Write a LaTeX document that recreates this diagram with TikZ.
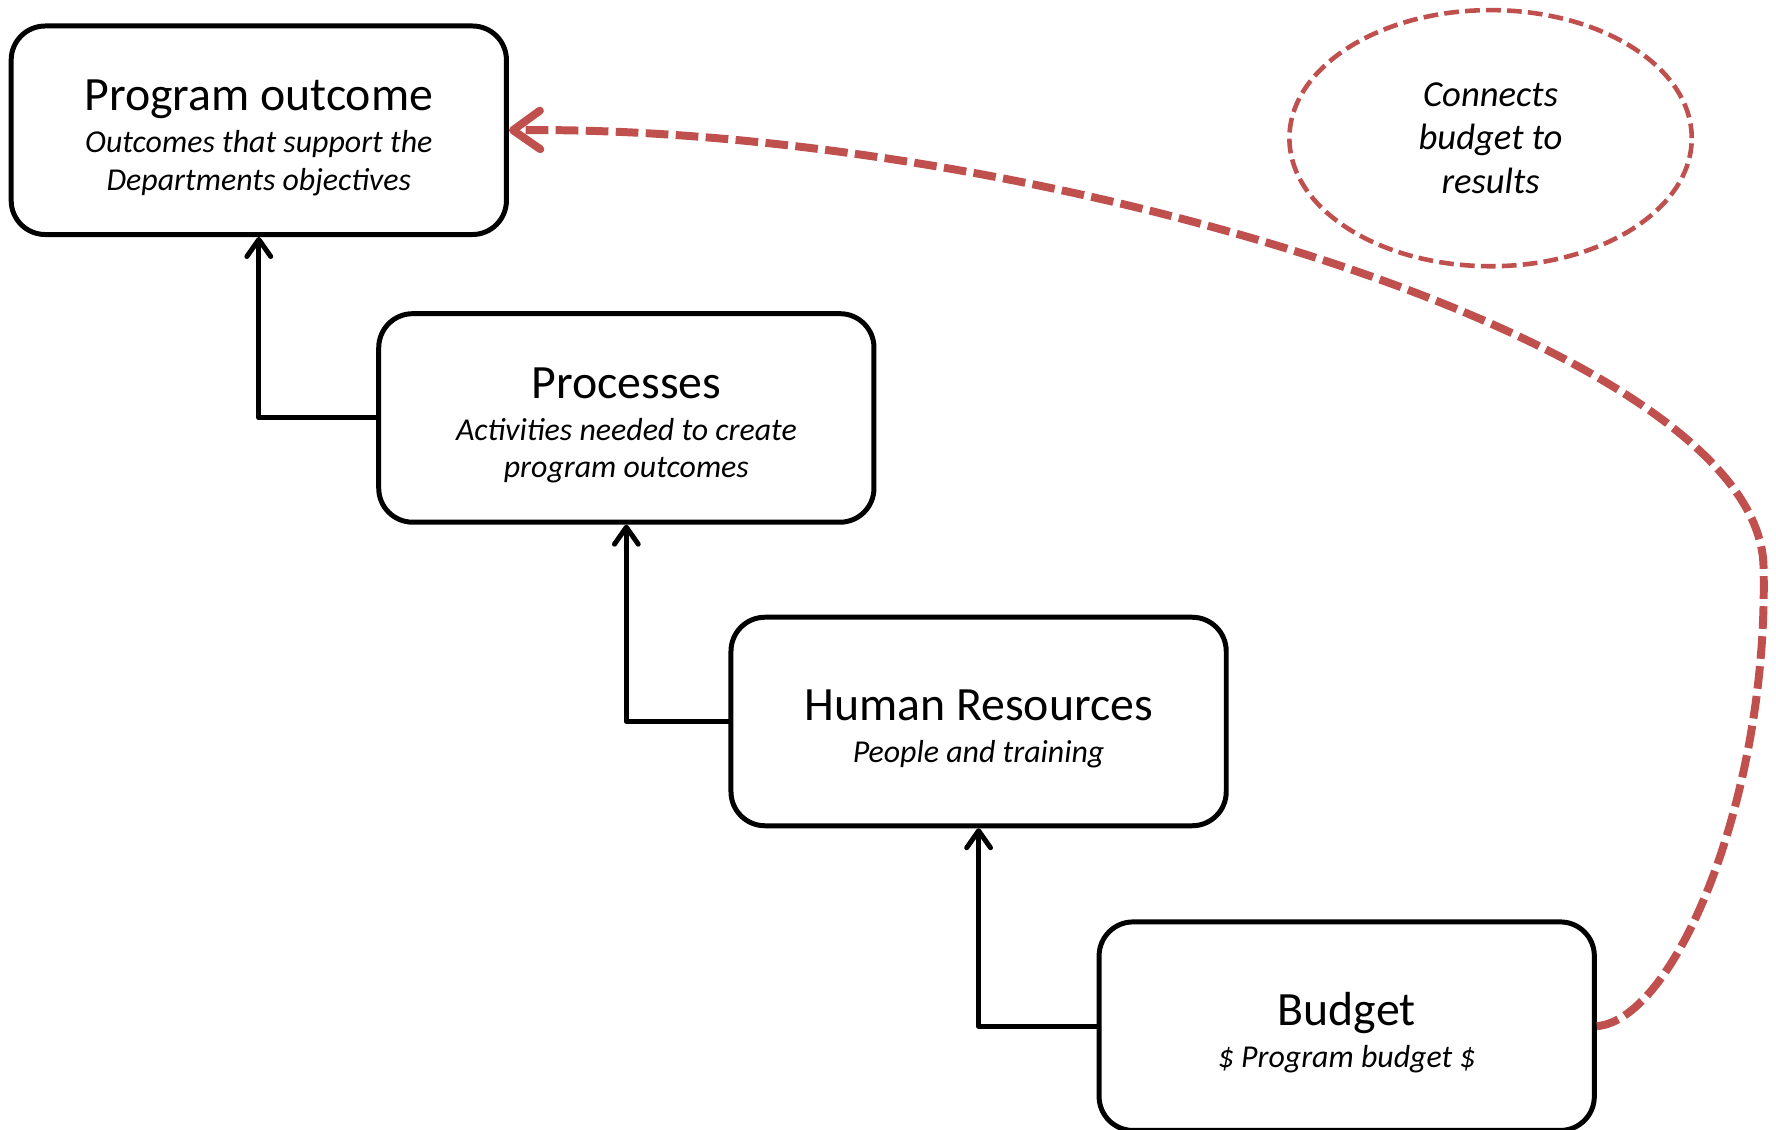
\documentclass[tikz,border=0pt]{standalone}
\usepackage{fontspec}
\setmainfont{Carlito}
\usetikzlibrary{arrows.meta,shapes.geometric}
\definecolor{offred}{RGB}{192,80,77}
\newcommand{\ttl}[1]{{\fontsize{12}{14}\selectfont\rule{0pt}{11.4pt}#1}\\[1.2pt]}
\begin{document}
\begin{tikzpicture}[x=0.01cm,y=-0.01cm,
  box/.style={draw=black, line width=1.25pt, rounded corners=0.3cm, fill=white,
    minimum width=4.37cm, minimum height=1.84cm, align=center, inner sep=0pt,
    font=\fontsize{8}{9.4}\selectfont},
  conn/.style={draw=black, line width=1.25pt, line cap=round, line join=round,
    -{Straight Barb[length=0.15cm,width=0.21cm,line width=1.25pt,round]}},
  redc/.style={draw=offred, line width=2pt, dash pattern=on 0.2cm off 0.065cm,
    -{Straight Barb[length=0.24cm,width=0.34cm,line width=2pt,round]}},
  note/.style={ellipse, draw=offred, line width=1.15pt, dash pattern=on 0.13cm off 0.055cm,
    minimum width=3.55cm, minimum height=2.26cm, align=center, inner sep=0pt,
    font=\fontsize{9.2}{11}\selectfont\itshape}]
\useasboundingbox (0,0) rectangle (1568,997);
\node[box] (po) at (228.5,115) {\ttl{Program outcome}\textit{Outcomes that support the}\\\textit{Departments objectives}};
\node[box] (pr) at (553,369) {\ttl{Processes}\textit{Activities needed to create}\\\textit{program outcomes}};
\node[box] (hr) at (864,637) {\ttl{Human Resources}\textit{People and training}};
\node[box] (bu) at (1189,906) {\ttl{Budget}\textit{\$ Program budget \$}};
\node[note] (nt) at (1316,122) {Connects\\budget to\\results};
\draw[conn] (pr.west) -| (po.south);
\draw[conn] (hr.west) -| (pr.south);
\draw[conn] (bu.west) -| (hr.south);
\coordinate (c1) at (1557,500);
\draw[redc] (bu.east) .. controls (1480,900) and (1562,700) .. (c1)
  .. controls (1552,300) and (900,110) .. (po.east);
\end{tikzpicture}
\end{document}
